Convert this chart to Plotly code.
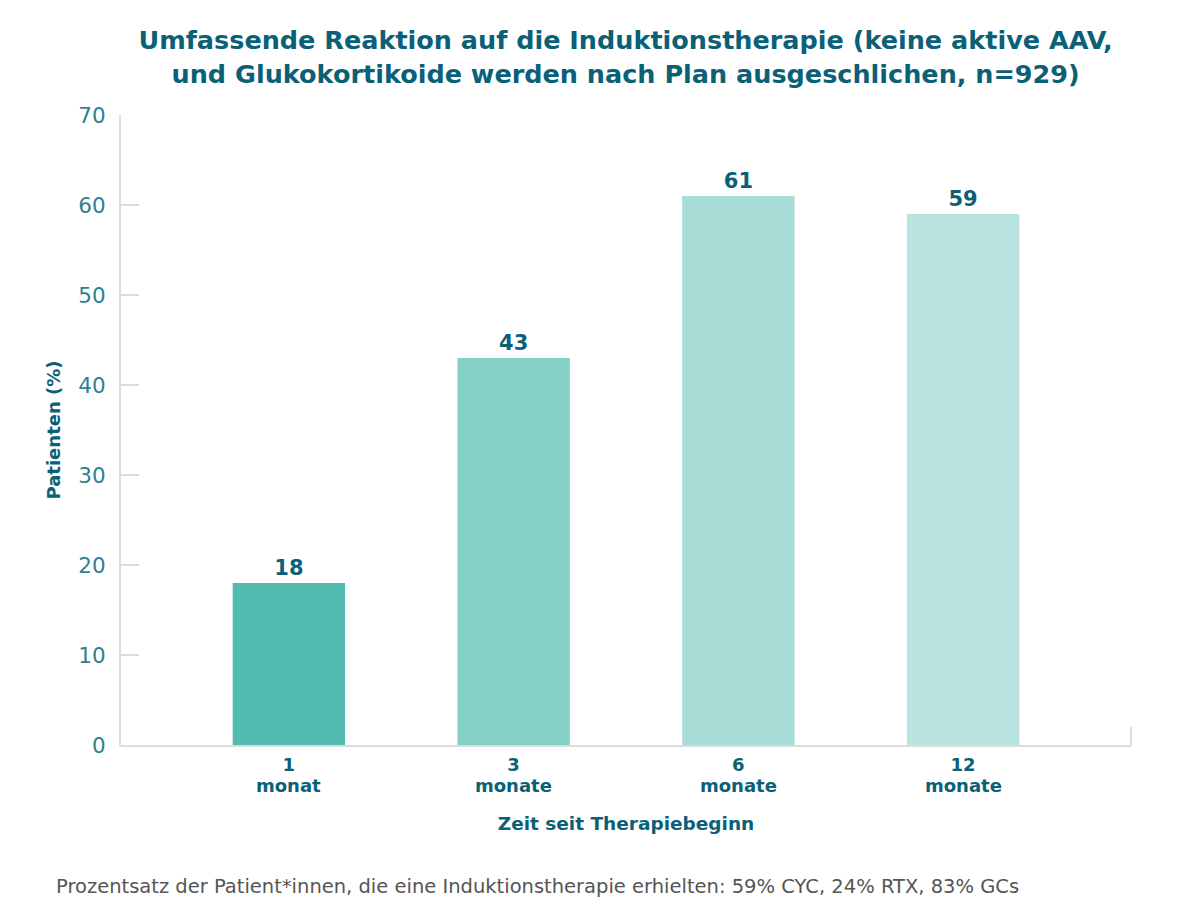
import plotly.graph_objects as go

categories = ["1 monat", "3 monate", "6 monate", "12 monate"]
tick_numbers = ["1", "3", "6", "12"]
tick_units = ["monat", "monate", "monate", "monate"]
values = [18, 43, 61, 59]
bar_colors = ["#52BBB0", "#86D1C7", "#A8DDD7", "#B9E3DF"]
y_ticks = [0, 10, 20, 30, 40, 50, 60, 70]

FONT = "DejaVu Sans, sans-serif"
DARK = "#0A6177"
TICK = "#2F7F91"
AXIS = "#DCDCDC"

fig = go.Figure(go.Bar(
    x=categories, y=values, width=0.5,
    marker=dict(color=bar_colors, line=dict(width=0)),
    text=[str(v) for v in values], textposition="outside",
    textfont=dict(family=FONT, size=21, color=DARK, weight=700),
    cliponaxis=False,
))

fig.update_layout(
    width=1181, height=919,
    paper_bgcolor="white", plot_bgcolor="white",
    margin=dict(l=113, r=58, t=107, b=182),
    title=dict(
        text="Umfassende Reaktion auf die Induktionstherapie (keine aktive AAV,<br>und Glukokortikoide werden nach Plan ausgeschlichen, n=929)",
        x=0.523, xanchor="center", yref="container", y=0.955, yanchor="middle",
        font=dict(family=FONT, size=25.5, color=DARK, weight=700),
    ),
    showlegend=False,
    bargap=0.5,
)

fig.update_xaxes(
    range=[-0.747, 3.747],
    tickvals=categories, ticktext=tick_numbers,
    showline=True, linecolor=AXIS, linewidth=2,
    ticks="", showgrid=False,
    tickfont=dict(family=FONT, size=18, color=DARK, weight=700),
    ticklabelstandoff=2,
    title=dict(text="Zeit seit Therapiebeginn", standoff=43,
               font=dict(family=FONT, size=18.5, color=DARK, weight=700)),
)
fig.update_yaxes(
    range=[0, 70], tickvals=y_ticks,
    showline=True, linecolor=AXIS, linewidth=2,
    ticks="inside", ticklen=18, tickcolor=AXIS, tickwidth=1.5,
    showgrid=False, zeroline=False,
    tickfont=dict(family=FONT, size=21.5, color=TICK),
    ticklabelstandoff=9,
    title=dict(text="Patienten (%)", standoff=13,
               font=dict(family=FONT, size=18, color=DARK, weight=700)),
)

for cat, unit in zip(categories, tick_units):
    fig.add_annotation(
        text=unit, x=cat, xref="x", yref="paper", y=-0.0645, yanchor="middle",
        showarrow=False, font=dict(family=FONT, size=18, color=DARK, weight=700),
    )

fig.add_shape(type="line", xref="paper", yref="y", x0=1, x1=1, y0=0, y1=2,
              line=dict(color=AXIS, width=2))

fig.add_annotation(
    text="Prozentsatz der Patient*innen, die eine Induktionstherapie erhielten: 59% CYC, 24% RTX, 83% GCs",
    xref="paper", yref="paper", x=-0.066, y=-0.224, xanchor="left", yanchor="middle",
    showarrow=False, font=dict(family=FONT, size=19.5, color="#555555"),
)

fig.write_html("out.html")
